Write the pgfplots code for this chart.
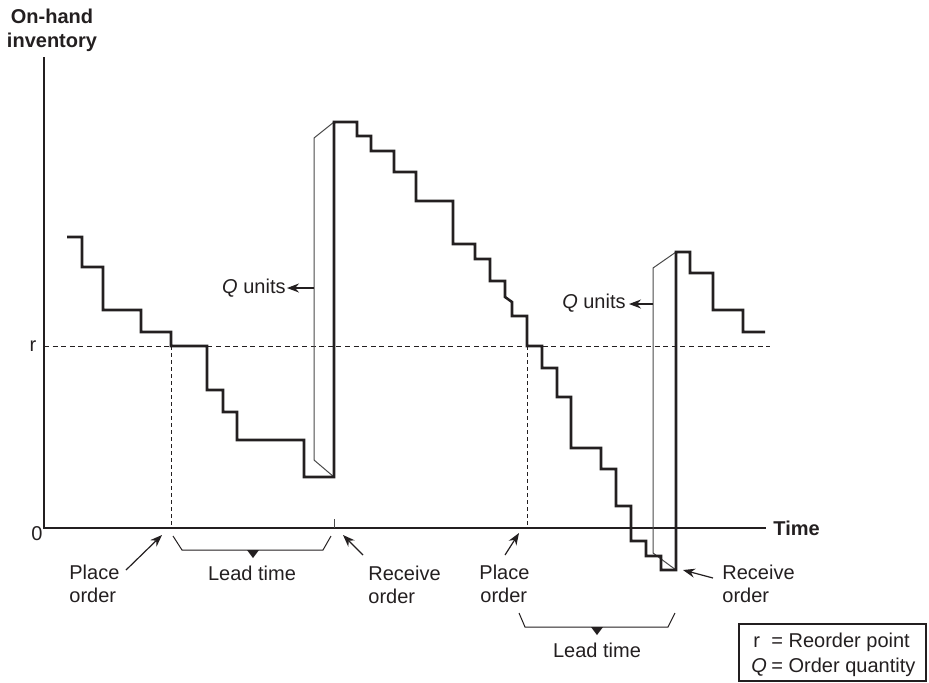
\documentclass[border=0pt]{standalone}
\usepackage{pgfplots}
\pgfplotsset{compat=1.18}
\usetikzlibrary{arrows.meta}
\usepackage{fontspec}
\setmainfont{Liberation Sans}
\definecolor{ink}{HTML}{231F20}
\definecolor{thinc}{HTML}{4A4A4A}
\begin{document}
\begin{tikzpicture}[font=\fontsize{10}{12}\selectfont, text=ink]
\begin{axis}[scale only axis, width=464.5pt, height=341pt,
  xmin=0, xmax=929, ymin=0, ymax=682, y dir=reverse,
  axis lines=none, clip=false]
\path (axis cs:0,0) rectangle (axis cs:929,682);
% axes
\addplot[ink, line width=0.6pt, mark=none] coordinates {(44,57) (44,528) (766,528)};
% reorder point
\addplot[ink, line width=0.5pt, dash pattern=on 2.5pt off 1.8pt, mark=none] coordinates {(44,346) (770,346)};
\addplot[ink, line width=0.5pt, dash pattern=on 2pt off 1.5pt, mark=none] coordinates {(171,346) (171,528)};
\addplot[ink, line width=0.5pt, dash pattern=on 2pt off 1.5pt, mark=none] coordinates {(527,346) (527,528)};
\addplot[thinc, line width=0.5pt, mark=none] coordinates {(334,519) (334,528)};
% Q boxes
\addplot[thinc, line width=0.5pt, mark=none] coordinates {(334,477) (314,460) (314,138) (334,122)};
\addplot[thinc, line width=0.5pt, mark=none] coordinates {(676,570) (653,553) (653,268) (676,252)};
% inventory steps
\addplot[ink, line width=1.3pt, mark=none] coordinates {
(67,237) (82,237) (82,267) (103,267) (103,310) (141,310) (141,332) (171,332)
(171,346) (207,346) (207,390) (223,390) (223,412) (237,412) (237,440) (304,440)
(304,477) (334,477) (334,122) (357,122) (357,136) (371,136) (371,151) (394,151)
(394,172) (416,172) (416,201) (453,201) (453,244) (475,244) (475,259) (490,259)
(490,281) (505,281) (505,297) (512,302) (512,316) (527,316) (527,346) (542,346)
(542,368) (557,368) (557,397) (571,397) (571,448) (601,448) (601,469) (616,469)
(616,506) (631,506) (631,541) (646,541) (646,556) (661,556) (661,570) (676,570)
(676,252) (690,252) (690,273) (713,273) (713,310) (743,310) (743,332) (765,332)};
% arrows
\draw[ink, line width=0.6pt, -{Stealth[length=6pt,width=4.5pt]}] (axis cs:314,288) -- (axis cs:287,288);
\draw[ink, line width=0.6pt, -{Stealth[length=6pt,width=4.5pt]}] (axis cs:653,304) -- (axis cs:629,304);
\draw[ink, line width=0.6pt, -{Stealth[length=6pt,width=4.5pt]}] (axis cs:126,570) -- (axis cs:162,535);
\draw[ink, line width=0.6pt, -{Stealth[length=6pt,width=4.5pt]}] (axis cs:363,555) -- (axis cs:343,535);
\draw[ink, line width=0.6pt, -{Stealth[length=6pt,width=4.5pt]}] (axis cs:505,555) -- (axis cs:519,533);
\draw[ink, line width=0.6pt, -{Stealth[length=6pt,width=4.5pt]}] (axis cs:713,578) -- (axis cs:683,570);
% brackets
\draw[ink, line width=0.5pt] (axis cs:173,536) -- (axis cs:182,550) -- (axis cs:323,550) -- (axis cs:331,536);
\fill[ink] (axis cs:247,550) -- (axis cs:259,550) -- (axis cs:253,558) -- cycle;
\draw[ink, line width=0.5pt] (axis cs:519,613) -- (axis cs:525,627) -- (axis cs:668,627) -- (axis cs:675,613);
\fill[ink] (axis cs:591,627) -- (axis cs:603,627) -- (axis cs:597,635) -- cycle;
% legend box
\draw[ink, line width=0.6pt] (axis cs:739,624) rectangle (axis cs:926,681);
% texts
\node[align=center, font=\fontsize{10}{12}\selectfont\bfseries] at (axis cs:52,30) {On-hand\\inventory};
\node at (axis cs:33,346) {r};
\node at (axis cs:37,534) {0};
\node[anchor=west, inner sep=0pt, font=\fontsize{10}{12}\selectfont\bfseries] at (axis cs:773,528) {Time};
\node[anchor=base west, inner sep=0pt] at (axis cs:69,579) {Place};
\node[anchor=base west, inner sep=0pt] at (axis cs:69,602) {order};
\node[anchor=base, inner sep=0pt] at (axis cs:252,580) {Lead time};
\node[anchor=base west, inner sep=0pt] at (axis cs:368,580) {Receive};
\node[anchor=base west, inner sep=0pt] at (axis cs:368,603) {order};
\node[anchor=base west, inner sep=0pt] at (axis cs:479,579) {Place};
\node[anchor=base west, inner sep=0pt] at (axis cs:480,602) {order};
\node[anchor=base west, inner sep=0pt] at (axis cs:722,579) {Receive};
\node[anchor=base west, inner sep=0pt] at (axis cs:722,602) {order};
\node[anchor=base, inner sep=0pt] at (axis cs:597,657) {Lead time};
\node[anchor=east, inner sep=0pt] at (axis cs:286,288) {\textit{Q} units};
\node[anchor=east, inner sep=0pt] at (axis cs:626,303) {\textit{Q} units};
\node[anchor=base west, inner sep=0pt] at (axis cs:753,647) {r};
\node[anchor=base west, inner sep=0pt] at (axis cs:771,647) {= Reorder point};
\node[anchor=base west, inner sep=0pt] at (axis cs:751,672) {\textit{Q}};
\node[anchor=base west, inner sep=0pt] at (axis cs:771,672) {= Order quantity};
\end{axis}
\end{tikzpicture}
\end{document}
